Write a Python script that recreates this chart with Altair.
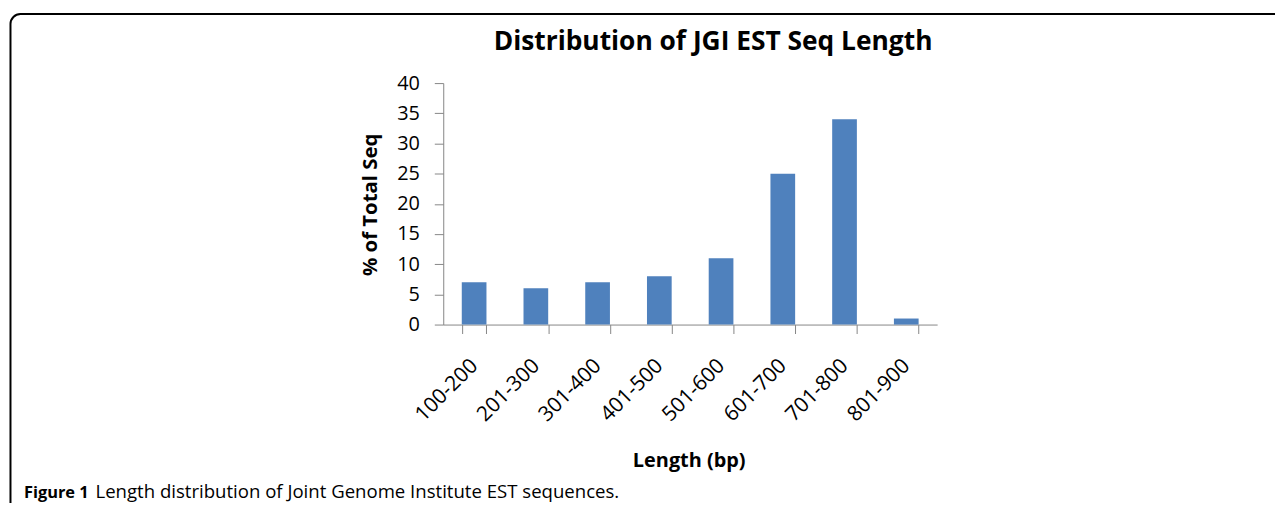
import altair as alt
import pandas as pd

categories = ["100-200", "201-300", "301-400", "401-500", "501-600", "601-700", "701-800", "801-900"]
percent_values = [7, 6, 7, 8, 11, 25, 34, 1]
y_ticks = [0, 5, 10, 15, 20, 25, 30, 35, 40]

chart_title = "Distribution of JGI EST Seq Length"
x_title = "Length (bp)"
y_title = "% of Total Seq"
caption_bold = "Figure 1"
caption_text = "Length distribution of Joint Genome Institute EST sequences."

FONT = "Open Sans"
BAR = "#4F81BD"
AXIS = "#868686"

df = pd.DataFrame({"Length": categories, "Pct": percent_values})
one = pd.DataFrame({"k": [0]})

bars = alt.Chart(df).mark_bar(color=BAR).encode(
    x=alt.X(
        "Length:N",
        sort=categories,
        scale=alt.Scale(paddingInner=0.6, paddingOuter=0.3),
        axis=alt.Axis(
            title=x_title,
            labelAngle=-45,
            labelAlign="right",
            labelBaseline="middle",
            labelFont=FONT,
            labelFontSize=21,
            labelColor="#000000",
            labelPadding=29,
            tickBand="extent",
            tickSize=9,
            tickColor=AXIS,
            domainColor=AXIS,
            titleFont=FONT,
            titleFontSize=20,
            titleFontWeight="bold",
            titleColor="#000000",
            titleX=247,
            titleY=143,
            titleAlign="center",
            titleBaseline="alphabetic",
            grid=False,
        ),
    ),
    y=alt.Y(
        "Pct:Q",
        scale=alt.Scale(domain=[0, 40], nice=False),
        axis=alt.Axis(
            title=y_title,
            values=y_ticks,
            labelFont=FONT,
            labelFontSize=20,
            labelColor="#000000",
            labelPadding=15,
            tickSize=9,
            tickColor=AXIS,
            domainColor=AXIS,
            titleFont=FONT,
            titleFontSize=20.5,
            titleFontWeight="bold",
            titleColor="#000000",
            titleX=-73,
            titleY=122,
            titleAngle=270,
            titleAlign="center",
            titleBaseline="middle",
            grid=False,
        ),
    ),
)

frame = alt.Chart(one).mark_rect(
    filled=False, stroke="#000000", strokeWidth=2, cornerRadius=10
).encode(
    x=alt.value(-435.5), x2=alt.value(1000), y=alt.value(-69.5), y2=alt.value(600)
)

title = alt.Chart(one).mark_text(
    text=chart_title, font=FONT, fontSize=26.5, fontWeight="bold",
    align="center", baseline="alphabetic", color="#000000"
).encode(x=alt.value(271.5), y=alt.value(-33))

cap1 = alt.Chart(one).mark_text(
    text=caption_bold, font=FONT, fontSize=16.5, fontWeight="bold",
    align="left", baseline="alphabetic", color="#000000"
).encode(x=alt.value(-422), y=alt.value(418))

cap2 = alt.Chart(one).mark_text(
    text=caption_text, font=FONT, fontSize=18.7, fontWeight="normal",
    align="left", baseline="alphabetic", color="#000000"
).encode(x=alt.value(-350), y=alt.value(418))

chart = alt.layer(frame, title, bars, cap1, cap2).properties(
    width=497,
    height=243,
    autosize=alt.AutoSizeParams(type="none"),
    padding={"left": 438, "top": 74, "right": 340, "bottom": 178},
).configure_view(stroke=None)

chart.save("out.html", embed_options={"renderer": "svg", "actions": False})
